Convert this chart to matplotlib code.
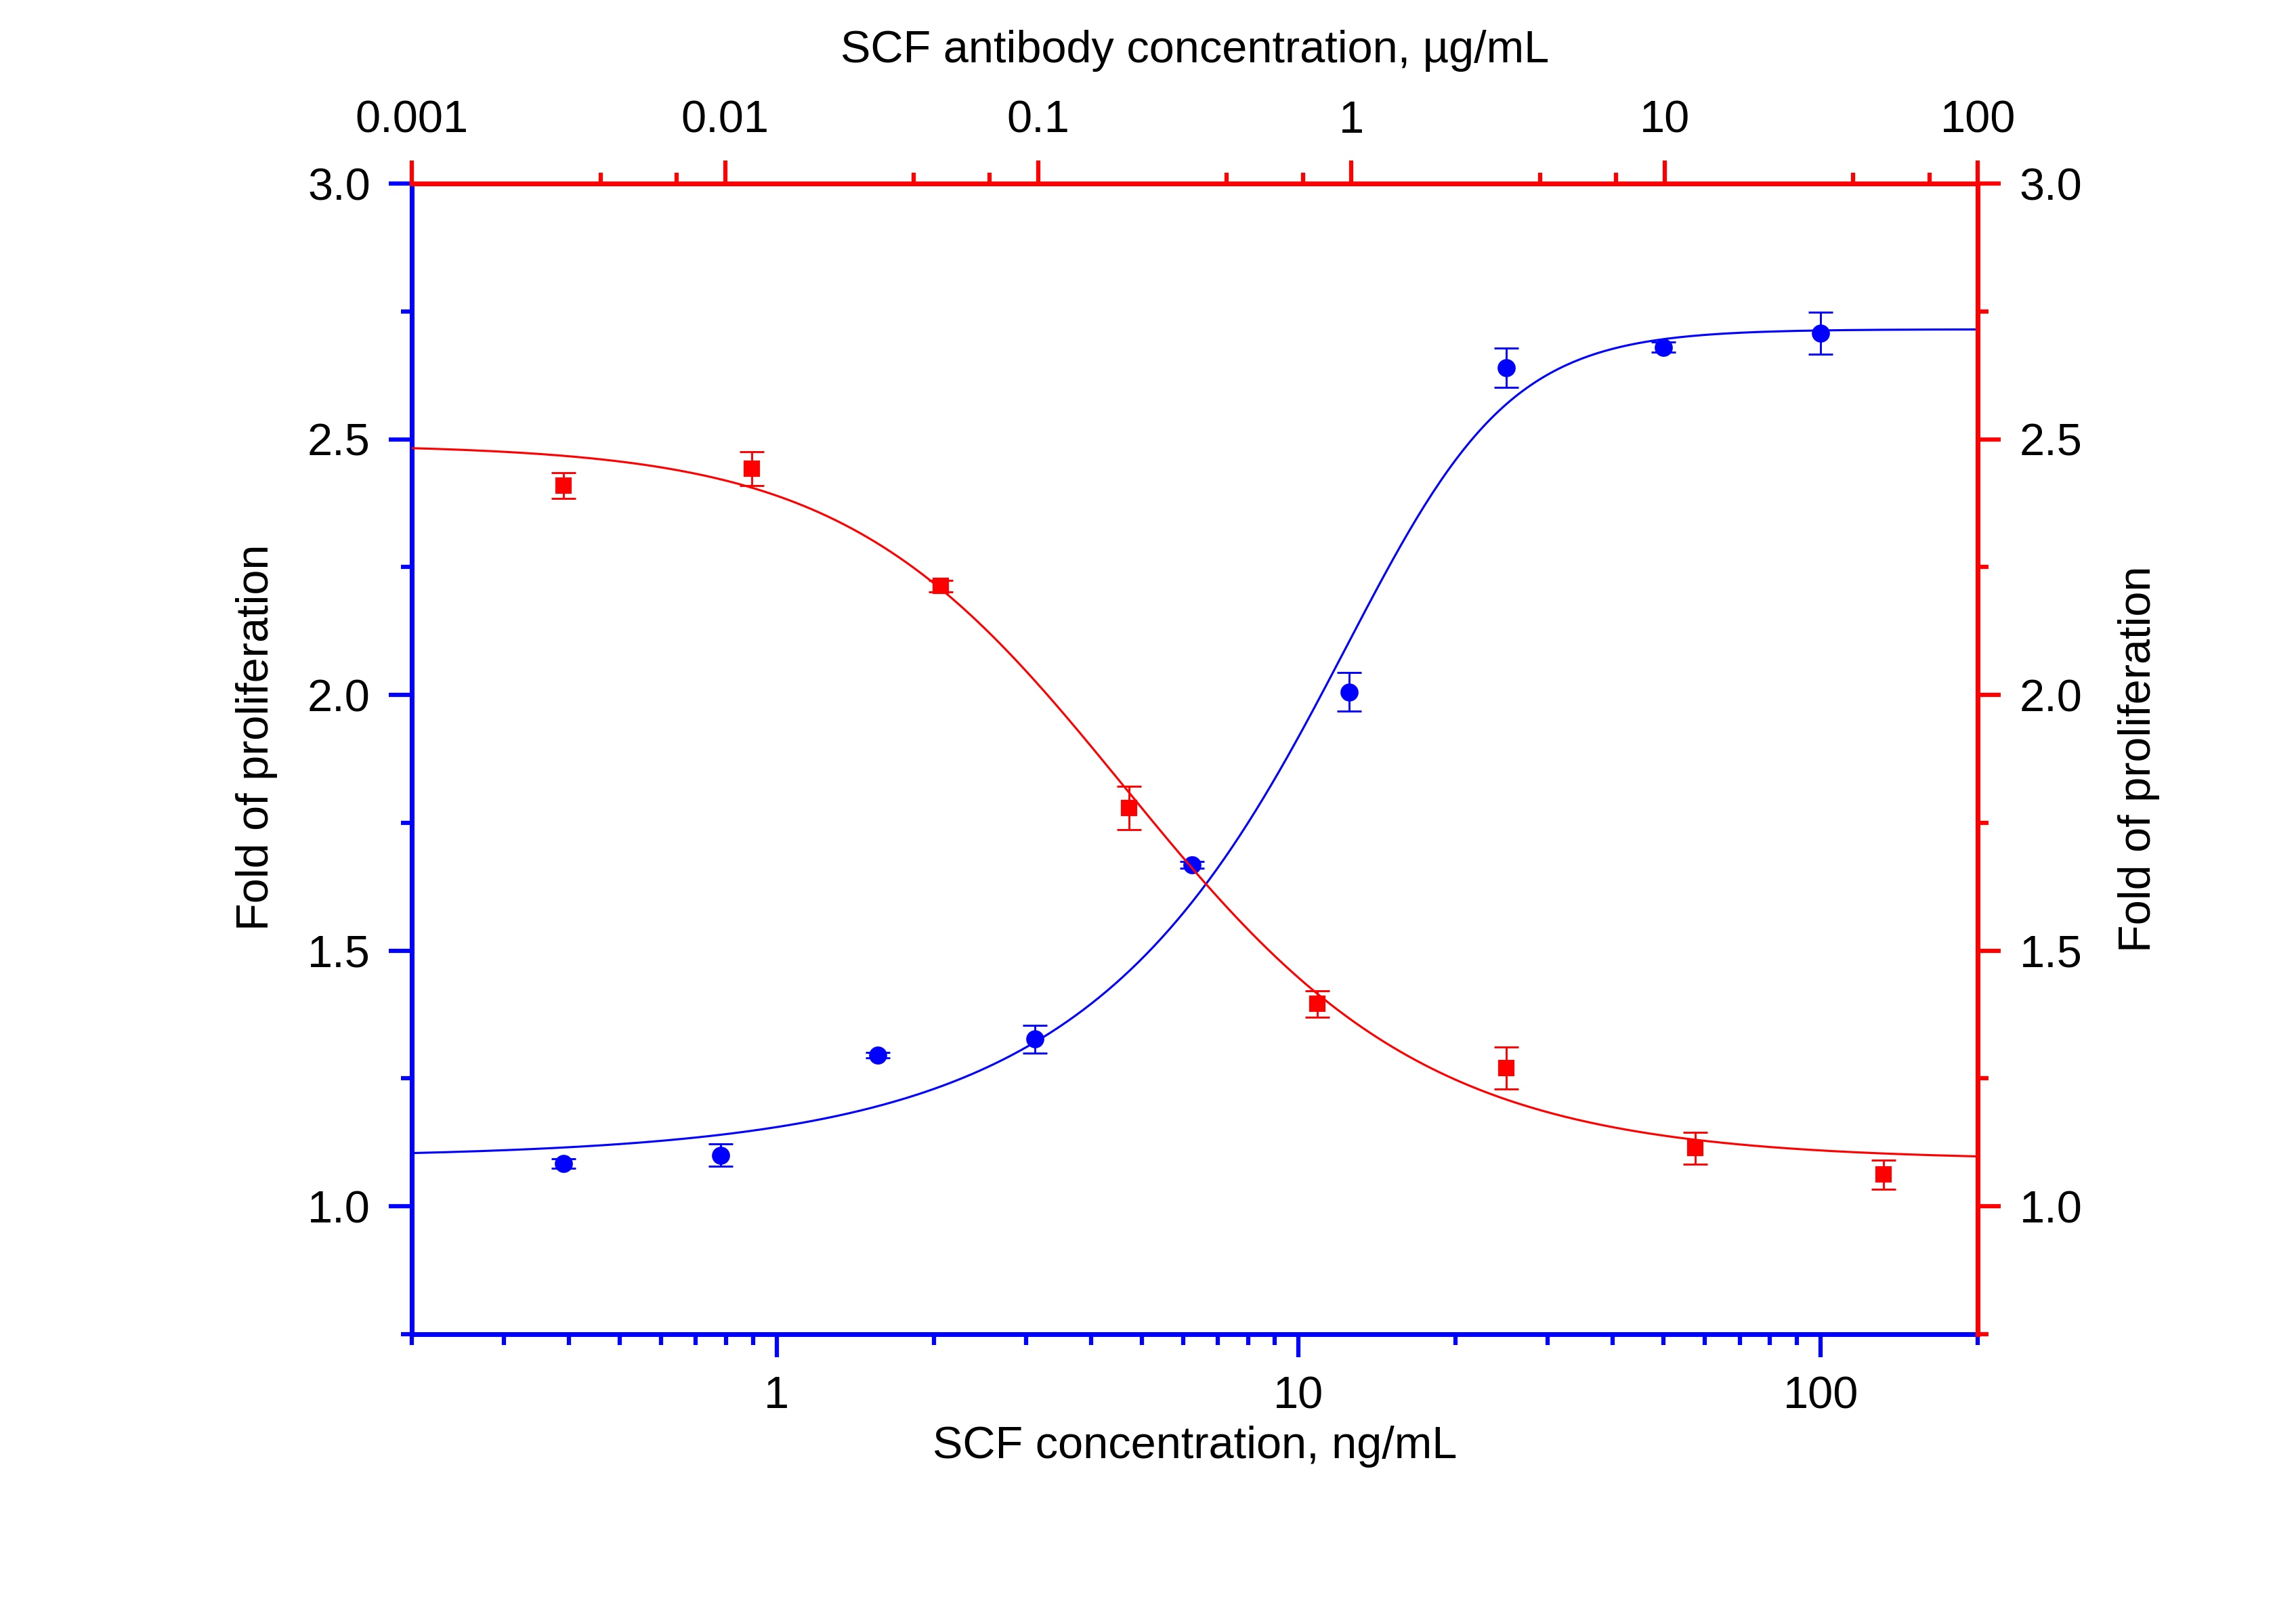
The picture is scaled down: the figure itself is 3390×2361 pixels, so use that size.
import matplotlib
matplotlib.use("Agg")
import matplotlib.pyplot as plt
import numpy as np
from matplotlib.ticker import FixedLocator, LogLocator, NullFormatter, FormatStrFormatter

plt.rcParams['font.family'] = ['Liberation Sans', 'DejaVu Sans']

# SCF alone (bottom axis, ng/mL) - blue circles
scf_conc = [0.39, 0.78, 1.56, 3.125, 6.25, 12.5, 25, 50, 100]
scf_fold = [1.084, 1.100, 1.296, 1.327, 1.668, 2.006, 2.640, 2.680, 2.707]
scf_err = [0.009, 0.022, 0.005, 0.027, 0.007, 0.038, 0.038, 0.010, 0.041]

# SCF antibody (top axis, ug/mL) - red squares
ab_conc = [0.00305, 0.0122, 0.0488, 0.195, 0.78, 3.125, 12.5, 50]
ab_fold = [2.409, 2.443, 2.213, 1.779, 1.396, 1.271, 1.114, 1.062]
ab_err = [0.025, 0.033, 0.011, 0.042, 0.026, 0.041, 0.031, 0.029]

# fitted dose-response curves (5-parameter logistic)
scf_fit = dict(bottom=1.095, top=2.715, ec=16.9, hill=3.15, asym=0.37)
ab_fit = dict(bottom=1.09, top=2.49, ec=0.15, hill=1.0, asym=0.8)

bottom_ticks = [1, 10, 100]
top_ticks = [0.001, 0.01, 0.1, 1, 10, 100]
top_ticklabels = ['0.001', '0.01', '0.1', '1', '10', '100']
y_ticks = [1.0, 1.5, 2.0, 2.5, 3.0]

BLUE = '#0000ff'
RED = '#ff0000'


def rising(x, p):
    f = (1 + (p['ec'] / x) ** p['hill']) ** (-p['asym'])
    return p['bottom'] + (p['top'] - p['bottom']) * f


def falling(x, p):
    f = (1 + (x / p['ec']) ** p['hill']) ** (-p['asym'])
    return p['bottom'] + (p['top'] - p['bottom']) * f


fig = plt.figure(figsize=(11.3, 7.87), dpi=300)
rect = [0.1794, 0.1656, 0.6820, 0.7196]
ax = fig.add_axes(rect)
axr = fig.add_axes(rect, label='antibody')   # second pair of axes, top/right
axr.patch.set_visible(False)

tick_kw = dict(direction='out', width=1.5, labelsize=16, pad=6.5, labelcolor='black')

# ---- blue: bottom / left
ax.set_xscale('log')
ax.set_xlim(0.2, 200)
ax.set_ylim(0.75, 3.0)
xs = np.logspace(np.log10(0.2), np.log10(200), 400)
ax.plot(xs, rising(xs, scf_fit), color=BLUE, lw=0.75, zorder=2)
ax.errorbar(scf_conc, scf_fold, yerr=scf_err, fmt='o', color=BLUE, ms=5.4,
            elinewidth=0.7, capsize=4.25, capthick=0.7, zorder=3)
for s in ['top', 'right']:
    ax.spines[s].set_visible(False)
for s in ['left', 'bottom']:
    ax.spines[s].set_color(BLUE)
    ax.spines[s].set_linewidth(1.7)
ax.xaxis.set_major_locator(FixedLocator(bottom_ticks))
ax.xaxis.set_major_formatter(FormatStrFormatter('%g'))
ax.xaxis.set_minor_locator(LogLocator(base=10, subs=np.arange(2, 10), numticks=20))
ax.xaxis.set_minor_formatter(NullFormatter())
ax.yaxis.set_major_locator(FixedLocator(y_ticks))
ax.yaxis.set_minor_locator(FixedLocator(np.arange(0.75, 3.01, 0.25)))
ax.yaxis.set_major_formatter(FormatStrFormatter('%.1f'))
ax.tick_params(which='both', color=BLUE, **tick_kw)
ax.tick_params(which='major', length=8.2)
ax.tick_params(which='minor', length=3.8)
ax.set_xlabel('SCF concentration, ng/mL', fontsize=16)
ax.set_ylabel('Fold of proliferation', fontsize=16)
ax.xaxis.set_label_coords(0.5, -0.0795)
ax.yaxis.set_label_coords(-0.0856, 0.519)

# ---- red: top / right
axr.set_xscale('log')
axr.set_xlim(0.001, 100)
axr.set_ylim(0.75, 3.0)
xr = np.logspace(-3, 2, 400)
axr.plot(xr, falling(xr, ab_fit), color=RED, lw=0.75, zorder=2)
axr.errorbar(ab_conc, ab_fold, yerr=ab_err, fmt='s', color=RED, ms=5.0,
             elinewidth=0.7, capsize=4.25, capthick=0.7, zorder=3)
for s in ['left', 'bottom']:
    axr.spines[s].set_visible(False)
for s in ['top', 'right']:
    axr.spines[s].set_color(RED)
    axr.spines[s].set_linewidth(1.7)
axr.xaxis.tick_top()
axr.xaxis.set_label_position('top')
axr.yaxis.tick_right()
axr.yaxis.set_label_position('right')
axr.xaxis.set_major_locator(FixedLocator(top_ticks))
axr.set_xticklabels(top_ticklabels)
axr.xaxis.set_minor_locator(LogLocator(base=10, subs=(4, 7), numticks=20))
axr.xaxis.set_minor_formatter(NullFormatter())
axr.yaxis.set_major_locator(FixedLocator(y_ticks))
axr.yaxis.set_minor_locator(FixedLocator(np.arange(0.75, 3.01, 0.25)))
axr.yaxis.set_major_formatter(FormatStrFormatter('%.1f'))
axr.tick_params(which='both', color=RED, **tick_kw)
axr.tick_params(which='major', length=8.2)
axr.tick_params(which='minor', length=3.8)
axr.set_xlabel('SCF antibody concentration, µg/mL', fontsize=16)
axr.set_ylabel('Fold of proliferation', fontsize=16)
axr.xaxis.set_label_coords(0.5, 1.1055)
axr.yaxis.set_label_coords(1.0896, 0.5)

fig.savefig('out.png', dpi=300)
